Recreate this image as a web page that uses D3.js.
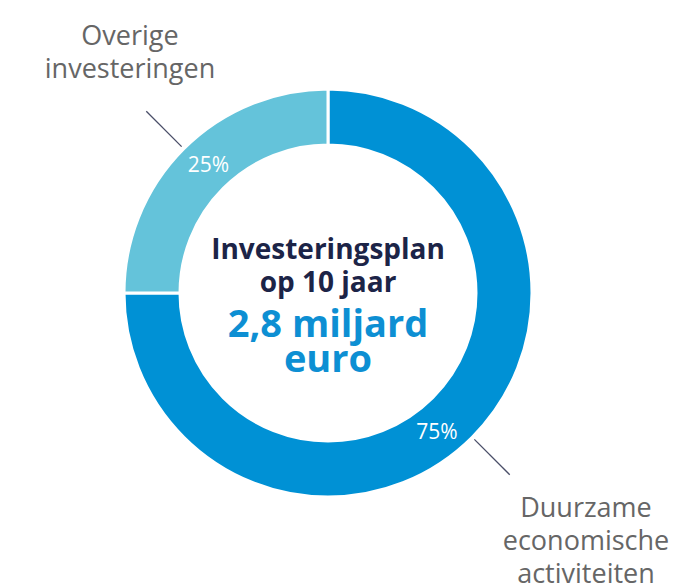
<!DOCTYPE html>
<html>
<head>
<meta charset="utf-8">
<script src="https://d3js.org/d3.v7.min.js"></script>
<style>
    body { margin: 0; background: white; }
    text { font-family: "Open Sans", "Lato", sans-serif; }
</style>
</head>
<body>
<script>
    var width = 684, height = 588;

    // data
    let categories = ["Duurzame economische activiteiten", "Overige investeringen"];
    let values = [75, 25];
    let labelLines = [["Duurzame", "economische", "activiteiten"], ["Overige", "investeringen"]];
    let centerTitle = ["Investeringsplan", "op 10 jaar"];
    let centerValue = ["2,8 miljard", "euro"];

    let colors = ["#0091d5", "#64c3da"];

    let cx = 328, cy = 293;
    let outerR = 204, innerR = 148;

    let svg = d3.select("body").append("svg")
        .attr("width", width)
        .attr("height", height);

    let g = svg.append("g")
        .attr("transform", "translate(" + cx + "," + cy + ")");

    let pie = d3.pie().sort(null).value(d => d);
    let arcs = pie(values);

    let arc = d3.arc().innerRadius(innerR).outerRadius(outerR);

    g.selectAll("path.slice")
        .data(arcs)
        .enter()
        .append("path")
        .attr("class", "slice")
        .attr("d", arc)
        .attr("fill", (d, i) => colors[i])
        .attr("stroke", "white")
        .attr("stroke-width", 3);

    function polar(angle, r) {
        return [Math.sin(angle) * r, -Math.cos(angle) * r];
    }

    // percentage labels inside ring
    g.selectAll("text.pct")
        .data(arcs)
        .enter()
        .append("text")
        .attr("class", "pct")
        .attr("x", d => polar(d.startAngle + 0.525 * (d.endAngle - d.startAngle), (innerR + outerR) / 2)[0])
        .attr("y", d => polar(d.startAngle + 0.525 * (d.endAngle - d.startAngle), (innerR + outerR) / 2)[1])
        .attr("text-anchor", "middle")
        .attr("dominant-baseline", "central")
        .attr("fill", "white")
        .style("font-size", "21px")
        .text(d => d.data + "%");

    // leader lines
    g.selectAll("line.leader")
        .data(arcs)
        .enter()
        .append("line")
        .attr("class", "leader")
        .attr("x1", d => polar((d.startAngle + d.endAngle) / 2, outerR + 3)[0])
        .attr("y1", d => polar((d.startAngle + d.endAngle) / 2, outerR + 3)[1])
        .attr("x2", d => polar((d.startAngle + d.endAngle) / 2, outerR + 53)[0])
        .attr("y2", d => polar((d.startAngle + d.endAngle) / 2, outerR + 53)[1])
        .attr("stroke", "#4a4e68")
        .attr("stroke-width", 1.3);

    // outer labels
    let labelPos = [[258, 224], [-198, -248]];
    arcs.forEach(function(d, i) {
        let t = g.append("text")
            .attr("text-anchor", "middle")
            .attr("fill", "#666666")
            .style("font-size", "27px");
        labelLines[i].forEach(function(line, j) {
            t.append("tspan")
                .attr("x", labelPos[i][0])
                .attr("y", labelPos[i][1] + j * 33)
                .text(line);
        });
    });

    // center text
    let titleY = [-34, -1];
    centerTitle.forEach(function(line, j) {
        g.append("text")
            .attr("x", 0)
            .attr("y", titleY[j])
            .attr("text-anchor", "middle")
            .attr("fill", "#1c2447")
            .style("font-size", "28px")
            .style("font-weight", "bold")
            .text(line);
    });
    let valueY = [44, 79];
    centerValue.forEach(function(line, j) {
        g.append("text")
            .attr("x", 0)
            .attr("y", valueY[j])
            .attr("text-anchor", "middle")
            .attr("fill", "#0d8fd3")
            .style("font-size", "38px")
            .style("font-weight", "bold")
            .text(line);
    });
</script>
</body>
</html>
